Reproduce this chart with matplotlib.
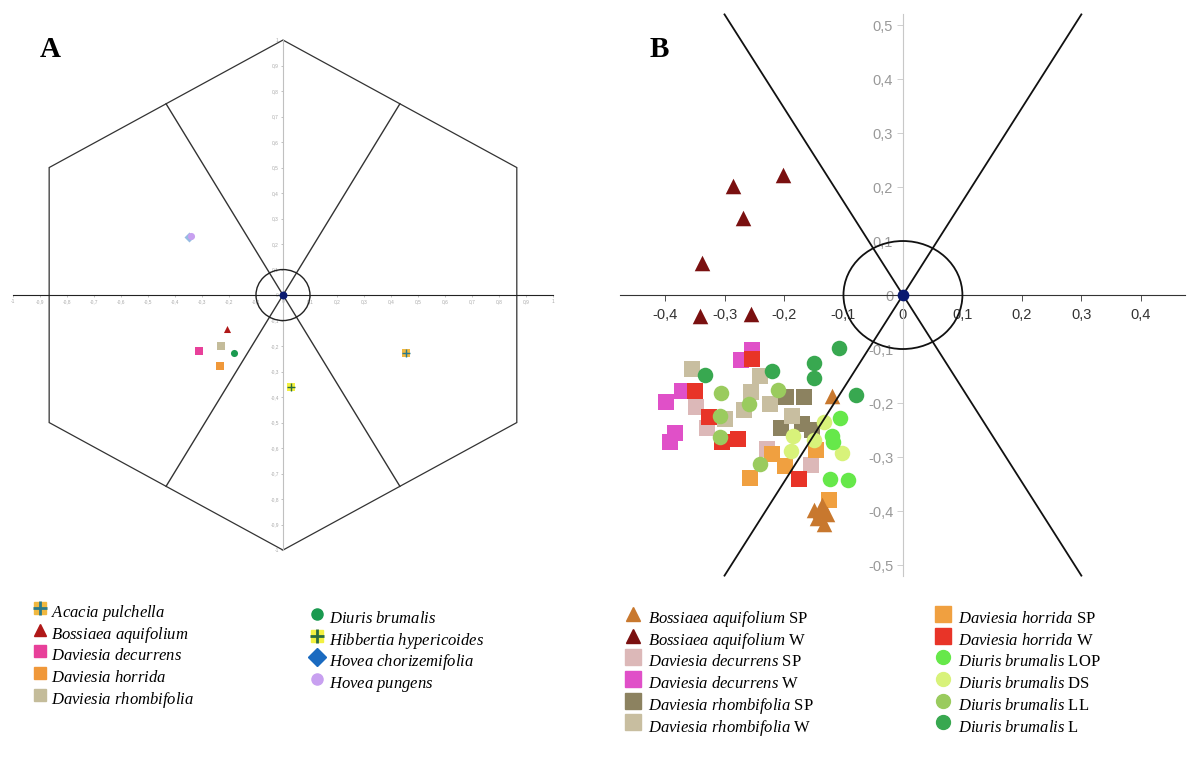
import numpy as np
import matplotlib
matplotlib.use('Agg')
import matplotlib.pyplot as plt
from matplotlib.lines import Line2D
from matplotlib.patches import Circle, Polygon

plt.rcParams['mathtext.fontset'] = 'custom'
plt.rcParams['mathtext.rm'] = 'Liberation Serif'
plt.rcParams['mathtext.it'] = 'Liberation Serif:italic'
plt.rcParams['font.family'] = 'Liberation Sans'

# ---- panel A : species centroids in the hexagon plot
a_species = ['Acacia pulchella', 'Bossiaea aquifolium', 'Daviesia decurrens',
             'Daviesia horrida', 'Daviesia rhombifolia', 'Diuris brumalis',
             'Hibbertia hypericoides', 'Hovea chorizemifolia', 'Hovea pungens']
a_x = [0.456, -0.206, -0.311, -0.235, -0.230, -0.180, 0.030, -0.348, -0.342]
a_y = [-0.229, -0.135, -0.220, -0.278, -0.200, -0.229, -0.362, 0.226, 0.231]

# ---- panel B : individual samples, by species and site
b_groups = ['Bossiaea aquifolium', 'Bossiaea aquifolium',
            'Daviesia decurrens', 'Daviesia decurrens',
            'Daviesia rhombifolia', 'Daviesia rhombifolia',
            'Daviesia horrida', 'Daviesia horrida',
            'Diuris brumalis', 'Diuris brumalis', 'Diuris brumalis', 'Diuris brumalis']
b_sites = ['SP', 'W', 'SP', 'W', 'SP', 'W', 'SP', 'W', 'LOP', 'DS', 'LL', 'L']
b_x = [
    [-0.120, -0.150, -0.136, -0.128, -0.145, -0.132, -0.140],
    [-0.285, -0.201, -0.269, -0.338, -0.341, -0.255],
    [-0.348, -0.330, -0.229, -0.155],
    [-0.254, -0.272, -0.371, -0.399, -0.383, -0.392],
    [-0.196, -0.166, -0.205, -0.169, -0.153],
    [-0.354, -0.240, -0.255, -0.223, -0.267, -0.299, -0.187],
    [-0.124, -0.146, -0.220, -0.198, -0.257],
    [-0.254, -0.350, -0.326, -0.278, -0.304, -0.175],
    [-0.106, -0.119, -0.117, -0.123, -0.092],
    [-0.132, -0.185, -0.150, -0.188, -0.102],
    [-0.306, -0.210, -0.259, -0.307, -0.307, -0.240],
    [-0.108, -0.150, -0.150, -0.220, -0.332, -0.079],
]
b_y = [
    [-0.187, -0.398, -0.388, -0.405, -0.412, -0.424, -0.400],
    [0.202, 0.222, 0.143, 0.059, -0.038, -0.035],
    [-0.207, -0.247, -0.286, -0.314],
    [-0.102, -0.121, -0.178, -0.199, -0.255, -0.272],
    [-0.188, -0.188, -0.247, -0.238, -0.250],
    [-0.137, -0.150, -0.180, -0.202, -0.213, -0.229, -0.224],
    [-0.379, -0.287, -0.295, -0.316, -0.339],
    [-0.119, -0.178, -0.225, -0.266, -0.273, -0.341],
    [-0.227, -0.261, -0.273, -0.341, -0.343],
    [-0.236, -0.261, -0.269, -0.289, -0.293],
    [-0.181, -0.175, -0.202, -0.224, -0.263, -0.312],
    [-0.098, -0.126, -0.153, -0.141, -0.149, -0.185],
]

# styles
a_colors = ['#f0b840', '#b01818', '#e8409a', '#f0983a', '#c4bc9a', '#1a9a50',
            '#f2f040', '#1a6ac0', '#c8a0f0']
a_markers = ['s', '^', 's', 's', 's', 'o', 's', 'D', 'o']
a_cross = {0: '#2a7a8a', 6: '#2a6a40'}

b_colors = ['#c8782e', '#7a1010', '#dcb8b8', '#e050c8', '#8c8260', '#c8bea0',
            '#f0a040', '#e83428', '#66e84a', '#d8f27a', '#9acb5e', '#38a850']
b_markers = ['^', '^', 's', 's', 's', 's', 's', 's', 'o', 'o', 'o', 'o']
b_order = [2, 3, 4, 5, 6, 7, 10, 11, 9, 8, 0, 1]


def comma(v):
    s = '%.1f' % v
    if s in ('0.0', '-0.0'):
        return '0'
    if s.endswith('.0'):
        s = s[:-2]
    return s.replace('.', ',')


def centre_axes(ax, xcol, ycol):
    for side in ('top', 'right'):
        ax.spines[side].set_visible(False)
    ax.spines['bottom'].set_position(('data', 0))
    ax.spines['left'].set_position(('data', 0))
    ax.spines['bottom'].set_color(xcol)
    ax.spines['left'].set_color(ycol)
    ax.patch.set_visible(False)


fig = plt.figure(figsize=(11.92, 7.64), dpi=100)

# ================= A
axA = fig.add_axes([0.0041, 0.270, 0.4666, 0.6876])
axA.set_xlim(-1.03, 1.03)
axA.set_ylim(-1.03, 1.03)
centre_axes(axA, '#222222', '#c0c0c0')
axA.spines['bottom'].set_bounds(-1, 1)
axA.spines['left'].set_bounds(-1, 1)
ticks = np.round(np.arange(-1, 1.001, 0.1), 1)
axA.set_xticks(ticks)
axA.set_xticklabels([comma(t) for t in ticks])
axA.set_yticks(ticks)
axA.set_yticklabels([comma(t) for t in ticks])
axA.tick_params(labelsize=3.5, colors='#aaaaaa', length=1.5, width=0.5, pad=1.5)

ang = np.deg2rad(np.arange(90, 450, 60))
hexagon = Polygon(np.c_[np.cos(ang), np.sin(ang)], closed=True, fill=False,
                  ec='#333333', lw=0.9, zorder=2)
axA.add_patch(hexagon)
for deg in (60, 120, 240, 300):
    r = np.sqrt(3) / 2
    axA.plot([0, r * np.cos(np.deg2rad(deg))], [0, r * np.sin(np.deg2rad(deg))],
             color='#333333', lw=1.0, zorder=2)
axA.add_patch(Circle((0, 0), 0.1, fill=False, ec='#222222', lw=1.0, zorder=3))
axA.scatter([0], [0], s=22, color='#0a1a70', zorder=5)

a_handles = []
for i, name in enumerate(a_species):
    alpha = 0.45 if i == 7 else 1.0
    axA.scatter(a_x[i], a_y[i], s=26, marker=a_markers[i], color=a_colors[i],
                alpha=alpha, lw=0, zorder=4)
    h = Line2D([], [], ls='none', marker=a_markers[i], color=a_colors[i],
               markersize=9 if a_markers[i] != 'o' else 8)
    if i in a_cross:
        axA.scatter(a_x[i], a_y[i], s=30, marker='+', color=a_cross[i], lw=1.0, zorder=4)
        h = (h, Line2D([], [], ls='none', marker='+', color=a_cross[i],
                       markersize=10, markeredgewidth=2))
    a_handles.append(h)

fig.text(0.033, 0.925, 'A', family='Liberation Serif', weight='bold', fontsize=21)

# ================= B
axB = fig.add_axes([0.5205, 0.2357, 0.474, 0.7563])
axB.set_xlim(-0.475, 0.475)
axB.set_ylim(-0.535, 0.535)
centre_axes(axB, '#333333', '#c8c8c8')
axB.spines['left'].set_bounds(-0.52, 0.52)
xt = np.round(np.arange(-0.4, 0.401, 0.1), 1)
yt = np.round(np.arange(-0.5, 0.501, 0.1), 1)
axB.set_xticks(xt)
axB.set_xticklabels([comma(t) for t in xt])
axB.set_yticks(yt)
axB.set_yticklabels([comma(t) for t in yt])
axB.tick_params(axis='x', labelsize=10.5, colors='#333333', length=4, width=0.6,
                labelcolor='#333333', pad=5)
axB.tick_params(axis='y', labelsize=10.5, colors='#c8c8c8', length=4, width=0.6,
                labelcolor='#999999', pad=3)

for i in b_order:
    axB.scatter(b_x[i], b_y[i], s=125, marker=b_markers[i], color=b_colors[i],
                lw=0, zorder=3)

for sgn in (1, -1):
    axB.plot([-0.3, 0.3], [sgn * 0.3 * np.sqrt(3), -sgn * 0.3 * np.sqrt(3)],
             color='#111111', lw=1.3, zorder=5)
axB.add_patch(Circle((0, 0), 0.1, fill=False, ec='#111111', lw=1.3, zorder=5))
axB.scatter([0], [0], s=55, color='#0a1a70', zorder=6)

fig.text(0.545, 0.925, 'B', family='Liberation Serif', weight='bold', fontsize=21)

# ================= legends
# tall handle boxes keep every row the same height whatever the glyphs
leg_kw = dict(loc='upper left', frameon=False, borderpad=0, borderaxespad=0,
              handlelength=1.0, handleheight=2.0, labelspacing=-0.245,
              prop={'family': 'Liberation Serif', 'size': 12})


def it_label(name, site=None):
    lab = r'$\mathit{' + name.replace(' ', r'\ ') + '}$'
    if site:
        lab += ' ' + site
    return lab


a_labels = [it_label(n) for n in a_species]
fig.legend(a_handles[:5], a_labels[:5], bbox_to_anchor=(32 / 1192, 1 - 599 / 764),
           handletextpad=0.15, **leg_kw)
fig.legend(a_handles[5:], a_labels[5:], bbox_to_anchor=(309 / 1192, 1 - 605 / 764),
           handletextpad=0.2, **leg_kw)

b_handles = [Line2D([], [], ls='none', marker=b_markers[i], color=b_colors[i],
                    markersize=11 if b_markers[i] == 's' else 10)
             for i in range(len(b_groups))]
b_labels = [it_label(b_groups[i], b_sites[i]) for i in range(len(b_groups))]
fig.legend(b_handles[:6], b_labels[:6], bbox_to_anchor=(625 / 1192, 1 - 605 / 764),
           handletextpad=0.4, **leg_kw)
fig.legend(b_handles[6:], b_labels[6:], bbox_to_anchor=(935 / 1192, 1 - 605 / 764),
           handletextpad=0.4, **leg_kw)

fig.savefig('out.png', dpi=100)
